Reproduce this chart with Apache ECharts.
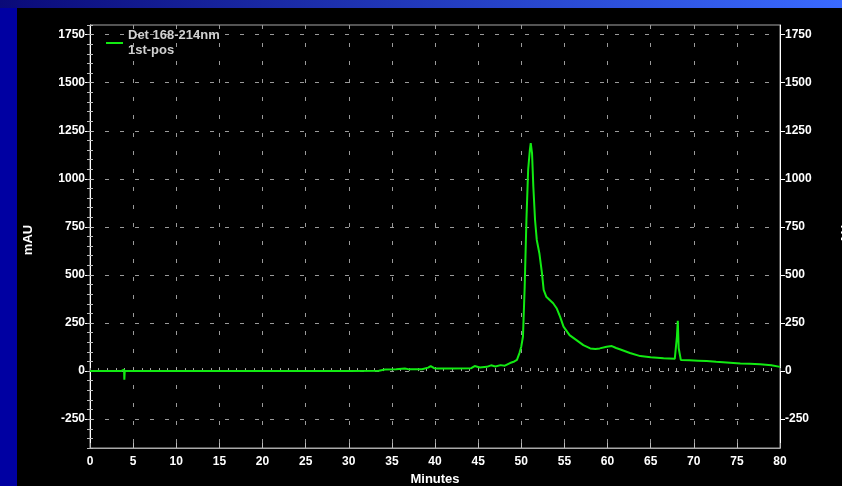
<!DOCTYPE html>
<html><head><meta charset="utf-8">
<script src="https://cdn.jsdelivr.net/npm/echarts@6/dist/echarts.min.js"></script>
<style>html,body{margin:0;padding:0;background:#000;}#c{width:842px;height:486px;}</style>
</head><body><div id="c"></div>
<script>
const seriesName = 'Det 168-214nm\n1st-pos';
const times = [0,2,3.6,3.75,3.95,3.98,4.03,4.3,8,14,20,26,30,33.5,34.2,35.5,36.5,37,38.5,39.2,39.5,39.9,40.3,42,44.2,44.6,45.2,46,46.5,47,47.6,48.1,48.7,49.2,49.5,49.8,50.0,50.2,50.4,50.6,50.8,51.0,51.1,51.25,51.4,51.6,51.8,52.1,52.4,52.6,52.9,53.3,53.7,54.1,54.5,54.9,55.6,56.4,57.2,58.0,58.6,59.1,59.9,60.5,61.0,61.5,62.6,63.8,65,66.5,67.8,68.05,68.15,68.25,68.5,69.5,70.5,71.5,72.6,73.8,75.4,76.5,77.7,79,80];
const values = [0,0,0,8,8,-45,0,0,0,1,0,1,1,2,8,9,14,9,10,18,26,15,14,14,15,26,19,22,30,24,31,28,42,50,58,95,127,180,440,786,1047,1151,1185,1134,960,786,682,613,509,422,387,370,353,327,283,231,187,161,135,118,115,118,127,130,120,112,94,78,72,67,64,180,262,120,58,56,54,52,48,45,40,38,35,30,22];
const yTickLabels = [-250,0,250,500,750,1000,1250,1500,1750];
const xTickLabels = [0,5,10,15,20,25,30,35,40,45,50,55,60,65,70,75,80];

const chart = echarts.init(document.getElementById('c'), null, {renderer:'canvas'});
const data = times.map((t,i)=>[t, values[i]]);
const lblStyle = {color:'#fff', fontWeight:'bold', fontSize:12, fontFamily:'Liberation Sans, Arial, sans-serif'};
const dashH = {color:'#9a9a9a', width:1, type:[4,11]};
const dashV = {color:'#9a9a9a', width:1, type:[4,14]};
const yMajor = (pos) => ({
  type:'value', position:pos, min:-400, max:1800, interval:50,
  axisLine:{show:true, onZero:false, lineStyle:{color:'#ffffff', width:1}},
  axisTick:{show:true, inside:false, length:5, customValues:yTickLabels, lineStyle:{color:'#fff'}},
  axisLabel:Object.assign({customValues:yTickLabels, margin:5, formatter:(v)=>String(v)}, lblStyle),
  splitLine:{show: pos==='left', lineStyle:dashH}
});
const yMinor = (pos) => ({
  type:'value', position:pos, min:-400, max:1800, interval:50,
  axisLine:{show:false}, axisTick:{show:true, inside:false, length:3, lineStyle:{color:'#bbb'}},
  axisLabel:{show:false}, splitLine:{show:false}
});
chart.setOption({
  backgroundColor:'#000',
  animation:false,
  grid:{left:90, right:62, top:25, bottom:38, show:true, borderColor:'#a8a8a8', borderWidth:1},
  legend:{
    left:106, top:28, padding:0, itemWidth:17, itemHeight:2, icon:'rect',
    data:[{name:seriesName}],
    textStyle:{color:'#d0d0d0', fontSize:13, fontWeight:'bold', lineHeight:15, fontFamily:'Liberation Sans, Arial, sans-serif'}
  },
  xAxis:[
    {type:'value', min:0, max:80, interval:5, position:'bottom',
     axisLine:{show:true, onZero:false, lineStyle:{color:'#a8a8a8'}},
     axisTick:{show:true, inside:true, length:5, lineStyle:{color:'#bbb'}},
     axisLabel:Object.assign({margin:8, formatter:(v)=> xTickLabels.indexOf(v)>=0 ? String(v) : ''}, lblStyle),
     splitLine:{show:true, lineStyle:dashV}},
    {type:'value', min:0, max:80, interval:1, position:'bottom',
     axisLine:{show:false}, axisTick:{show:true, inside:true, length:3, lineStyle:{color:'#aaa'}},
     axisLabel:{show:false}, splitLine:{show:false}}
  ],
  yAxis:[yMajor('left'), yMajor('right'), yMinor('left'), yMinor('right')],
  series:[{
    name:seriesName, type:'line', data:data, showSymbol:false, symbol:'none', sampling:'none',
    xAxisIndex:0, yAxisIndex:0, z:5,
    lineStyle:{color:'#12ea12', width:2}, itemStyle:{color:'#12ea12'}
  }],
  graphic:[
    {type:'rect', shape:{x:0,y:0,width:17,height:486}, style:{fill:'#0000a2'}, z:100},
    {type:'rect', shape:{x:0,y:0,width:842,height:8}, style:{fill:new echarts.graphic.LinearGradient(0,0,1,0,[{offset:0,color:'#0a0a78'},{offset:1,color:'#3a6aff'}])}, z:100},
    {type:'text', x:28, y:240, rotation:Math.PI/2, style:{text:'mAU', fill:'#fff', font:'bold 13px Liberation Sans, Arial, sans-serif', align:'center', verticalAlign:'middle'}},
    {type:'text', x:846, y:240, rotation:Math.PI/2, style:{text:'mAU', fill:'#fff', font:'bold 13px Liberation Sans, Arial, sans-serif', align:'center', verticalAlign:'middle'}},
    {type:'text', x:435, y:479, style:{text:'Minutes', fill:'#fff', font:'bold 13px Liberation Sans, Arial, sans-serif', align:'center', verticalAlign:'middle'}}
  ]
});
</script></body></html>
